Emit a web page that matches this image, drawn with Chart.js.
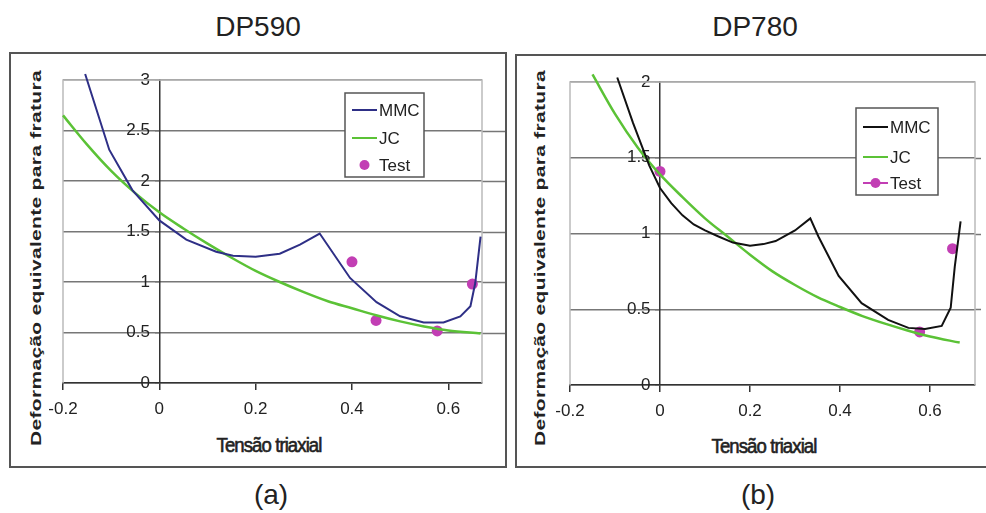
<!DOCTYPE html>
<html>
<head>
<meta charset="utf-8">
<script src="https://cdn.jsdelivr.net/npm/chart.js@4.4.1/dist/chart.umd.min.js"></script>
<style>
  html, body { margin: 0; padding: 0; background: #fff; }
  body { width: 986px; height: 513px; position: relative; overflow: hidden; font-family: "Liberation Sans", Arial, sans-serif; color: #222; }
  .panel { position: absolute; border: 2px solid #555; box-sizing: border-box; }
  canvas { position: absolute; top: 0; }
  .title { position: absolute; font-size: 28px; transform: translate(-50%, -50%); white-space: nowrap; }
  .ytitle { position: absolute; font-size: 21px; font-weight: bold; letter-spacing: 0.3px; white-space: nowrap; transform: translate(-50%, -50%) rotate(-90deg) scaleY(0.72); }
  .xtitle { position: absolute; font-size: 20px; letter-spacing: -1px; white-space: nowrap; transform: translate(-50%, -50%) scaleX(0.93); -webkit-text-stroke: 0.6px #222; }
</style>
</head>
<body>
<div class="panel" style="left:9px;top:52px;width:498px;height:416px"></div>
<div class="panel" style="left:515px;top:54px;width:480px;height:414px"></div>

<div class="title" style="left:258px;top:27px">DP590</div>
<div class="title" style="left:755px;top:27px">DP780</div>
<div class="title" style="left:271px;top:495px">(a)</div>
<div class="title" style="left:758px;top:495px">(b)</div>

<div class="ytitle" style="left:36px;top:258px">Deformação equivalente para fratura</div>
<div class="ytitle" style="left:540px;top:258px">Deformação equivalente para fratura</div>
<div class="xtitle" style="left:269px;top:445px">Tensão triaxial</div>
<div class="xtitle" style="left:764px;top:446px">Tensão triaxial</div>

<canvas id="chartA" width="510" height="513" style="left:0px"></canvas>
<canvas id="chartB" width="474" height="513" style="left:512px"></canvas>

<script>
// eixos
const xTicks = [-0.2, 0, 0.2, 0.4, 0.6];
const yTicksA = [0, 0.5, 1, 1.5, 2, 2.5, 3];
const yTicksB = [0, 0.5, 1, 1.5, 2];

// DP590 (a)
const mmcA_x = [-0.154, -0.104, -0.056, 0, 0.056, 0.118, 0.153, 0.2, 0.25, 0.292, 0.333, 0.396, 0.451, 0.5, 0.549, 0.59, 0.625, 0.646, 0.656, 0.667];
const mmcA_y = [3.06, 2.31, 1.91, 1.61, 1.42, 1.30, 1.26, 1.25, 1.28, 1.37, 1.48, 1.04, 0.80, 0.66, 0.60, 0.60, 0.66, 0.76, 0.99, 1.45];
const jcA_x = [-0.2, -0.15, -0.1, -0.05, 0, 0.05, 0.1, 0.15, 0.2, 0.25, 0.3, 0.35, 0.4, 0.45, 0.5, 0.55, 0.6, 0.667];
const jcA_y = [2.65, 2.36, 2.10, 1.88, 1.69, 1.53, 1.38, 1.24, 1.11, 1.00, 0.90, 0.81, 0.74, 0.67, 0.61, 0.56, 0.52, 0.49];
const testA_x = [0.4, 0.45, 0.577, 0.65];
const testA_y = [1.20, 0.62, 0.515, 0.98];

// DP780 (b)
const mmcB_x = [-0.095, -0.06, -0.024, 0, 0.025, 0.05, 0.075, 0.1, 0.13, 0.162, 0.2, 0.23, 0.257, 0.3, 0.334, 0.352, 0.397, 0.448, 0.507, 0.552, 0.589, 0.626, 0.646, 0.655, 0.668];
const mmcB_y = [2.03, 1.73, 1.45, 1.30, 1.20, 1.12, 1.06, 1.02, 0.98, 0.94, 0.92, 0.93, 0.95, 1.02, 1.10, 0.98, 0.72, 0.54, 0.43, 0.377, 0.37, 0.39, 0.51, 0.78, 1.08];
const jcB_x = [-0.15, -0.1, -0.05, 0, 0.05, 0.1, 0.15, 0.2, 0.25, 0.3, 0.35, 0.4, 0.45, 0.5, 0.55, 0.6, 0.666];
const jcB_y = [2.05, 1.79, 1.57, 1.39, 1.24, 1.10, 0.98, 0.86, 0.75, 0.66, 0.58, 0.515, 0.455, 0.405, 0.36, 0.32, 0.28];
const testB_x = [0, 0.577, 0.65];
const testB_y = [1.41, 0.35, 0.90];

const colMMC_A = "#2E2F86";
const colMMC_B = "#111111";
const colJC = "#5BC236";
const colTest = "#C23EB4";

function pts(xs, ys) {
  return xs.map((x, i) => ({ x: x, y: ys[i] }));
}

// moldura da área do gráfico + legenda em caixa
const frameLegend = {
  id: "frameLegend",
  beforeDatasetsDraw(chart, args, opts) {
    const a = chart.chartArea;
    const c = chart.ctx;
    const ys = chart.scales.y;
    c.save();
    // linhas de grade prolongadas até a moldura
    c.strokeStyle = "#777";
    c.lineWidth = 1.5;
    ys.ticks.forEach(t => {
      if (t.value <= ys.min || t.value >= ys.max) return;
      const y = Math.round(ys.getPixelForValue(t.value)) + 0.5;
      c.beginPath();
      c.moveTo(a.right, y);
      c.lineTo(a.right + opts.extendRight, y);
      c.stroke();
    });
    c.strokeStyle = "#bbbbbb";
    c.beginPath();
    c.moveTo(a.left, a.bottom);
    c.lineTo(a.left, a.top);
    c.lineTo(a.right, a.top);
    c.lineTo(a.right, a.bottom);
    c.stroke();
    c.restore();
  },
  afterDatasetsDraw(chart, args, opts) {
    const c = chart.ctx;
    const a = chart.chartArea;
    const bx = a.left + opts.left, by = a.top + opts.top;
    c.save();
    c.fillStyle = "#fff";
    c.fillRect(bx, by, opts.width, opts.height);
    c.strokeStyle = "#555";
    c.lineWidth = 1.5;
    c.strokeRect(bx, by, opts.width, opts.height);
    c.font = "17px 'Liberation Sans', Arial, sans-serif";
    c.textBaseline = "middle";
    opts.items.forEach((it, i) => {
      const y = by + opts.rowY[i];
      const x0 = bx + 7, x1 = bx + 32;
      if (it.kind !== "dot") {
        c.strokeStyle = it.color;
        c.lineWidth = 2;
        c.beginPath();
        c.moveTo(x0, y);
        c.lineTo(x1, y);
        c.stroke();
      }
      if (it.kind !== "line") {
        c.fillStyle = it.color;
        c.beginPath();
        c.arc((x0 + x1) / 2, y, 5, 0, Math.PI * 2);
        c.fill();
      }
      c.fillStyle = "#222";
      c.fillText(it.label, bx + 34, y + 1);
    });
    c.restore();
  }
};

const tickFont = { family: "'Liberation Sans', Arial, sans-serif", size: 17 };

function makeChart(id, mmcColor, mmc, jc, test, xMax, yMax, yTicks, pad, legend) {
  return new Chart(document.getElementById(id), {
    type: "scatter",
    data: {
      datasets: [
        {
          label: "MMC", data: mmc, showLine: true, borderColor: mmcColor,
          borderWidth: 2, pointRadius: 0, tension: 0, clip: false
        },
        {
          label: "JC", data: jc, showLine: true, borderColor: colJC,
          borderWidth: 2.5, pointRadius: 0, cubicInterpolationMode: "monotone", clip: false
        },
        {
          label: "Test", data: test, showLine: false, backgroundColor: colTest,
          borderColor: colTest, pointRadius: 5.5, pointBorderWidth: 0, clip: false
        }
      ]
    },
    options: {
      responsive: false,
      animation: false,
      devicePixelRatio: 1,
      layout: { padding: pad },
      plugins: {
        legend: { display: false },
        tooltip: { enabled: false },
        frameLegend: legend
      },
      scales: {
        x: {
          type: "linear",
          min: -0.2,
          max: xMax,
          afterBuildTicks: (s) => { s.ticks = xTicks.map(v => ({ value: v })); },
          afterFit: (s) => { s.height = 40; },
          border: { color: "#333", width: 1.5 },
          grid: { drawOnChartArea: false, drawTicks: true, tickLength: 7, color: "#333", lineWidth: 1.5 },
          ticks: {
            padding: 9,
            color: "#222",
            font: tickFont,
            callback: (v) => String(v)
          }
        },
        y: {
          type: "linear",
          position: { x: 0 },
          min: 0,
          max: yMax,
          afterBuildTicks: (s) => { s.ticks = yTicks.map(v => ({ value: v })); },
          border: { color: "#333", width: 1.5 },
          grid: { color: "#777", lineWidth: 1.5, drawTicks: true, tickLength: 4 },
          ticks: {
            color: "#222",
            font: tickFont,
            callback: (v) => String(v) + "  "
          }
        }
      }
    },
    plugins: [frameLegend]
  });
}

makeChart("chartA", colMMC_A, pts(mmcA_x, mmcA_y), pts(jcA_x, jcA_y), pts(testA_x, testA_y),
  0.67, 3, yTicksA,
  { left: 63, top: 80, right: 28, bottom: 90 },
  {
    extendRight: 23,
    left: 282, top: 13, width: 79, height: 84, rowY: [17, 45, 72],
    items: [
      { label: "MMC", color: colMMC_A, kind: "line" },
      { label: "JC", color: colJC, kind: "line" },
      { label: "Test", color: colTest, kind: "dot" }
    ]
  });

makeChart("chartB", colMMC_B, pts(mmcB_x, mmcB_y), pts(jcB_x, jcB_y), pts(testB_x, testB_y),
  0.7, 2, yTicksB,
  { left: 58, top: 82, right: 11, bottom: 88 },
  {
    extendRight: 6,
    left: 286, top: 26, width: 82, height: 87, rowY: [19, 49, 75],
    items: [
      { label: "MMC", color: colMMC_B, kind: "line" },
      { label: "JC", color: colJC, kind: "line" },
      { label: "Test", color: colTest, kind: "lineDot" }
    ]
  });
</script>
</body>
</html>
